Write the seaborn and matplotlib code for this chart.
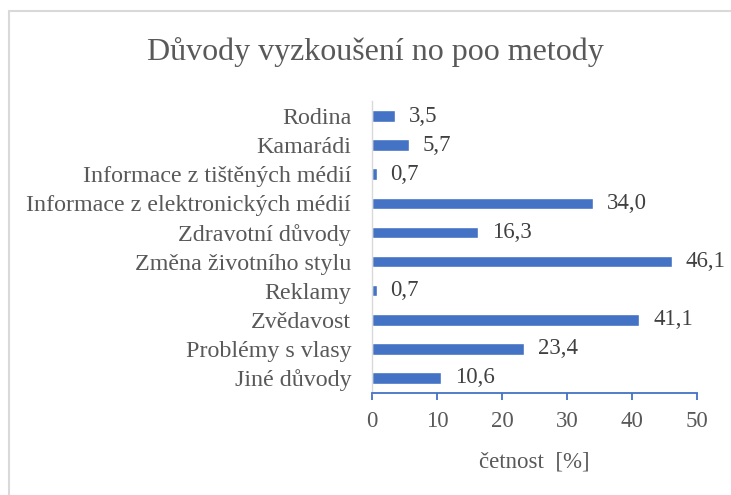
import matplotlib
matplotlib.use("Agg")
import matplotlib.pyplot as plt
import seaborn as sns
import pandas as pd
from matplotlib.lines import Line2D

# data
duvody = ["Rodina", "Kamarádi", "Informace z tištěných médií",
          "Informace z elektronických médií", "Zdravotní důvody",
          "Změna životního stylu", "Reklamy", "Zvědavost",
          "Problémy s vlasy", "Jiné důvody"]
cetnost = [3.5, 5.7, 0.7, 34.0, 16.3, 46.1, 0.7, 41.1, 23.4, 10.6]
xticks = [0, 10, 20, 30, 40, 50]

df = pd.DataFrame({"duvod": duvody, "cetnost": cetnost})

sns.set_style("white")
plt.rcParams['font.family'] = ['Liberation Serif', 'DejaVu Serif']

blue = "#4472C4"
grey_txt = "#595959"

fig = plt.figure(figsize=(7.31, 4.95), dpi=100)
ax = fig.add_axes([0.509, 0.207, 0.4445, 0.588])

sns.barplot(data=df, x="cetnost", y="duvod", orient="h", color=blue,
            width=0.4, saturation=1, ax=ax)

# value labels with decimal comma
for c in ax.containers:
    ax.bar_label(c, labels=[f"{v:.1f}".replace(".", ",") for v in cetnost],
                 padding=10, fontsize=16.5, color="#404040")

ax.set_xlim(0, 50)
ax.set_ylim(len(duvody) - 0.5, -0.5)
ax.set_xticks(xticks)
ax.set_xticklabels([str(t) for t in xticks])
ax.set_xlabel("četnost  [%]", fontsize=16.5, color=grey_txt, labelpad=14)
ax.set_ylabel("")
ax.tick_params(axis="x", colors=blue, length=5, width=1.3, direction="out",
               labelsize=16.5, labelcolor=grey_txt, pad=8, bottom=True)
ax.tick_params(axis="y", length=0, labelsize=17.3, labelcolor=grey_txt, pad=15)

for s in ["top", "right"]:
    ax.spines[s].set_visible(False)
ax.spines["bottom"].set_color(blue)
ax.spines["bottom"].set_linewidth(1.3)
ax.spines["left"].set_color("#D9D9D9")
ax.spines["left"].set_linewidth(1.0)
ax.grid(False)

fig.suptitle("Důvody vyzkoušení no poo metody", x=0.513, y=0.925,
             fontsize=23, color=grey_txt)

# chart area border (light grey), cut by the image edge on right/bottom
fig.add_artist(Line2D([8.5 / 731, 8.5 / 731], [0, 1 - 11 / 495],
                      transform=fig.transFigure, color="#D9D9D9", lw=1.5))
fig.add_artist(Line2D([8.5 / 731, 1], [1 - 11 / 495, 1 - 11 / 495],
                      transform=fig.transFigure, color="#D9D9D9", lw=1.5))

fig.savefig("out.png", dpi=100)
